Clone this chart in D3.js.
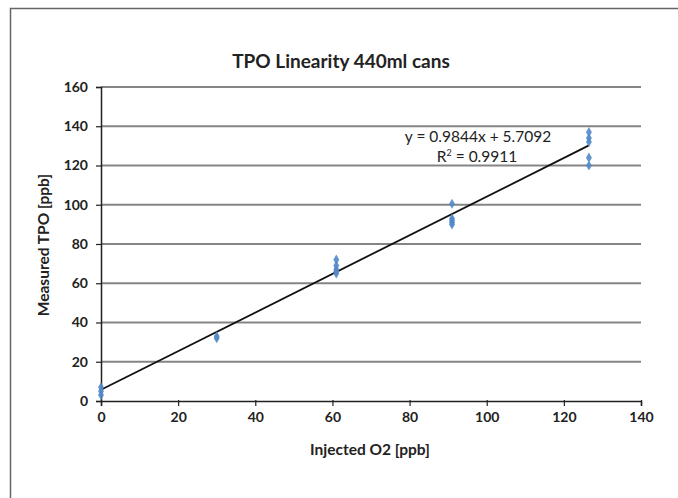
<!DOCTYPE html>
<html><head><meta charset="utf-8">
<script src="https://cdn.jsdelivr.net/npm/d3@7"></script>
<style>body{margin:0;background:#fff;}svg{display:block;font-family:Lato,"Open Sans",sans-serif;}</style>
</head><body>
<svg id="c" width="678" height="498"></svg>
<script>
const injected = [0,0,0, 30,30, 61,61,61,61,61, 91,91,91,91,91, 126.5,126.5,126.5,126.5,126.5];
const measured = [3,5,7, 32,33, 72,69,67,66,65, 100.5,93,92,91,90, 137,134,132,124,120];
const xTicks = [0,20,40,60,80,100,120,140];
const yTicks = [0,20,40,60,80,100,120,140,160];
const slope = 0.9844, intercept = 5.7092, r2 = 0.9911;
const title = "TPO Linearity 440ml cans";
const xTitle = "Injected O2 [ppb]";
const yTitle = "Measured TPO [ppb]";

const svg = d3.select("#c");
svg.append("rect").attr("x",10.5).attr("y",8.5).attr("width",720).attr("height",540)
  .attr("fill","none").attr("stroke","#666").attr("stroke-width",1.5);

const x = d3.scaleLinear().domain([0,140]).range([101,641]);
const y = d3.scaleLinear().domain([0,160]).range([401,87]);

// gridlines
svg.append("g").selectAll("line").data(yTicks.filter(d=>d>0)).join("line")
  .attr("x1",x(0)).attr("x2",x(140)).attr("y1",d=>y(d)).attr("y2",d=>y(d))
  .attr("stroke","#858585").attr("stroke-width",2);

// axes
const xa = svg.append("g").attr("transform",`translate(0,${y(0)})`)
  .call(d3.axisBottom(x).tickValues(xTicks).tickSize(5).tickPadding(6));
const ya = svg.append("g").attr("transform",`translate(${x(0)},0)`)
  .call(d3.axisLeft(y).tickValues(yTicks).tickSize(5).tickPadding(8));
[xa,ya].forEach(g=>{
  g.select(".domain").attr("stroke","#222").attr("stroke-width",1.5);
  g.selectAll(".tick line").attr("stroke","#222").attr("stroke-width",1.2);
  g.selectAll("text").attr("font-size",14).attr("font-weight","bold").attr("fill","#222")
   .attr("font-family","Lato,'Open Sans',sans-serif");
});
xa.selectAll(".tick line").attr("y1",-1);

// trendline
svg.append("line").attr("x1",x(0)).attr("y1",y(intercept))
  .attr("x2",x(d3.max(injected))).attr("y2",y(slope*d3.max(injected)+intercept))
  .attr("stroke","#111").attr("stroke-width",1.8);

// points (diamonds)
const sym = d3.symbol().type(d3.symbolDiamond).size(30);
svg.append("g").selectAll("path").data(injected.map((v,i)=>[v,measured[i]])).join("path")
  .attr("d",sym).attr("transform",d=>`translate(${x(d[0])},${y(d[1])})`)
  .attr("fill","#5288c8").attr("opacity",0.9);

// equation
const eq = svg.append("g").attr("font-size",15.5).attr("fill","#222").attr("text-anchor","middle");
eq.append("text").attr("x",478).attr("y",142).text(`y = ${slope}x + ${intercept}`);
const rt = eq.append("text").attr("x",477).attr("y",162);
rt.append("tspan").text("R");
rt.append("tspan").attr("font-size",9).attr("dy",-6).text("2");
rt.append("tspan").attr("dy",6).text(` = ${r2}`);

// titles
svg.append("text").attr("x",341).attr("y",68).attr("text-anchor","middle")
  .attr("font-size",19).attr("font-weight","bold").attr("fill","#222").text(title);
svg.append("text").attr("x",370).attr("y",455).attr("text-anchor","middle")
  .attr("font-size",15.5).attr("font-weight","bold").attr("fill","#222").text(xTitle);
svg.append("text").attr("transform","translate(49,245) rotate(-90)").attr("text-anchor","middle")
  .attr("font-size",15.5).attr("font-weight","bold").attr("fill","#222").text(yTitle);
</script>
</body></html>
